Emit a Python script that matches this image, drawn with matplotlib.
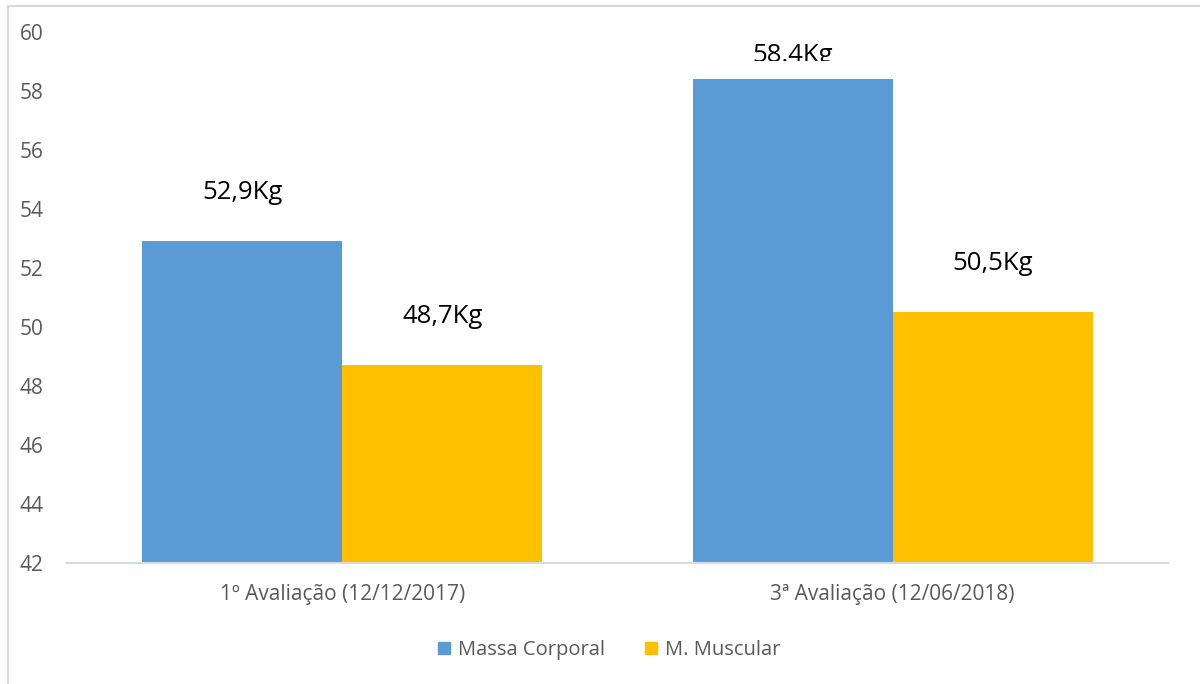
import matplotlib.pyplot as plt
from matplotlib.patches import Rectangle
from matplotlib.lines import Line2D
from matplotlib.transforms import Bbox
import numpy as np

categories = ["1º Avaliação (12/12/2017)", "3ª Avaliação (12/06/2018)"]
massa_corporal = [52.9, 58.4]
m_muscular = [48.7, 50.5]
labels_massa = ["52,9Kg", "58.4Kg"]
labels_muscular = ["48,7Kg", "50,5Kg"]
series_names = ["Massa Corporal", "M. Muscular"]
colors = ["#5B9BD5", "#FFC000"]

plt.rcParams['font.family'] = ['Open Sans', 'DejaVu Sans']

W, H = 1200, 684
fig = plt.figure(figsize=(W / 100, H / 100), dpi=100)

# axes placement in pixel units
left, right, top, bottom = 67, 1168, 32, 563
ax = fig.add_axes([left / W, 1 - bottom / H, (right - left) / W, (bottom - top) / H])

x = np.arange(len(categories))
bw = 200 / ((right - left) / 2)
ax.bar(x - bw / 2, massa_corporal, bw, color=colors[0], zorder=2)
ax.bar(x + bw / 2, m_muscular, bw, color=colors[1], zorder=2)

ax.set_ylim(42, 60)
ax.set_xlim(-0.5, len(categories) - 0.5)
ax.set_yticks(np.arange(42, 61, 2))
ax.set_xticks(x)
ax.set_xticklabels(categories)
ax.tick_params(axis='both', length=0, colors='#595959', labelsize=15)
ax.tick_params(axis='y', pad=17)
ax.tick_params(axis='x', pad=15)
for s in ['top', 'right', 'left']:
    ax.spines[s].set_visible(False)
ax.spines['bottom'].set_color('#D9D9D9')
ax.spines['bottom'].set_linewidth(1.5)

# value labels above the bars; a label running past the top is cut off
offset = 1.65
for xi, v, t in zip(x - bw / 2, massa_corporal, labels_massa):
    y = v + offset
    txt = ax.text(xi, min(y, 59.2), t, ha='center', va='center', fontsize=18.5,
                  color='black', clip_on=False)
    if y > 60:
        txt.set_clip_on(True)
        txt.set_clip_box(Bbox.from_extents(0, H - 61, W, H))
for xi, v, t in zip(x + bw / 2, m_muscular, labels_muscular):
    ax.text(xi, v + offset, t, ha='center', va='center', fontsize=18.5, color='black')

handles = [Rectangle((0, 0), 1, 1, color=c) for c in colors]
fig.legend(handles, series_names, loc='center',
           bbox_to_anchor=(0.5 + 9 / W, 1 - 650 / H),
           ncol=2, frameon=False, fontsize=14.5, handlelength=0.6, handleheight=0.6,
           columnspacing=2.0, handletextpad=0.4, labelcolor='#595959')

# outer chart border (left and top edges)
fig.add_artist(Line2D([8 / W, 8 / W], [0, 1 - 6 / H], transform=fig.transFigure,
                      color='#D9D9D9', lw=1.5))
fig.add_artist(Line2D([8 / W, 1], [1 - 6 / H, 1 - 6 / H], transform=fig.transFigure,
                      color='#D9D9D9', lw=1.5))

fig.savefig('out.png', dpi=100)
